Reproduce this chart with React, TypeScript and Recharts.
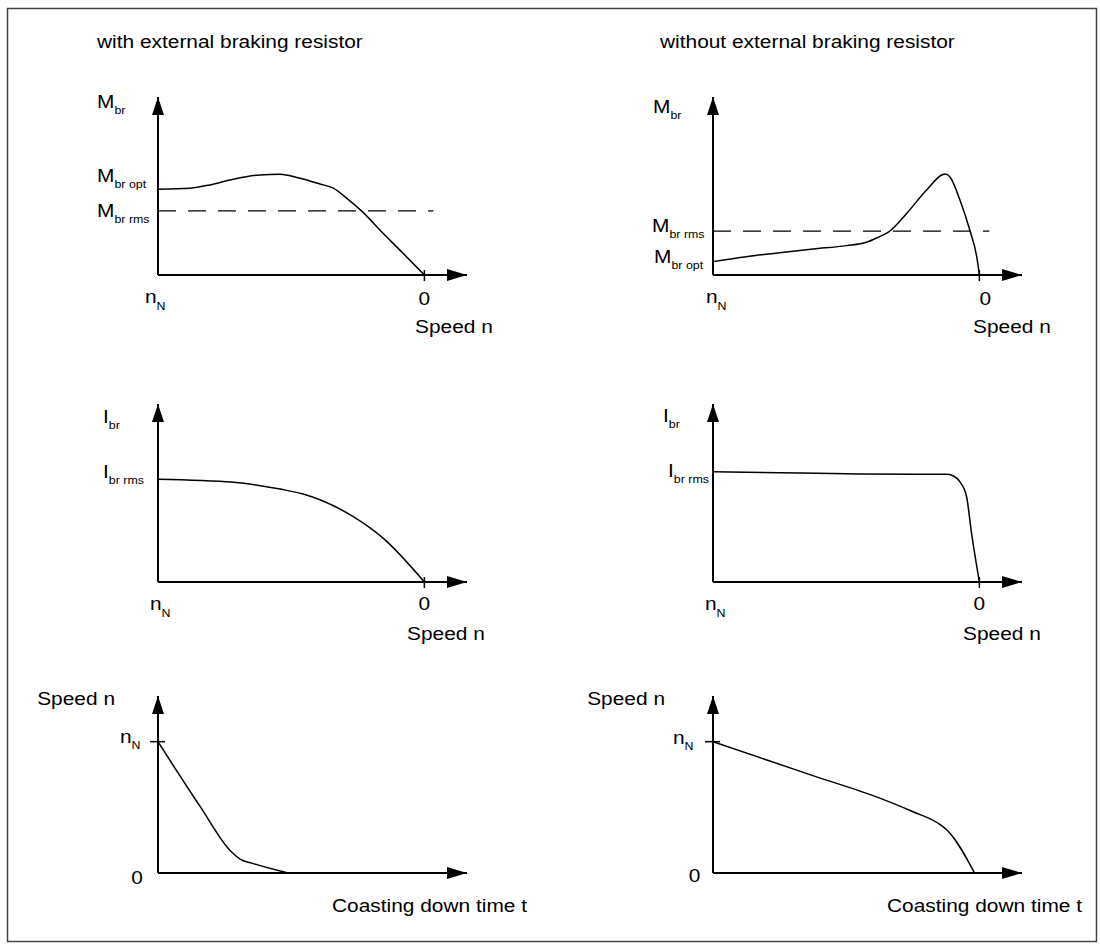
import React from 'react';
import { LineChart, Line, XAxis, YAxis, ReferenceLine, ReferenceDot } from 'recharts';

// x: 0 = n_N, 100 = speed 0 (axis arrow runs on to 116); y: 0..100 = axis arrow tip
const torqueWithX = [0, 12, 19.5, 28.3, 38.3, 45.8, 53.3, 60.8, 65.8, 70.8, 76.4, 84.5, 92, 100];
const torqueWithY = [48.2, 48.8, 50.6, 53.8, 56.2, 56.6, 54.3, 51.1, 48.8, 43.2, 36.0, 23.4, 12.2, 0];
const torqueWithRms = 36;

const torqueWithoutX = [0, 12.5, 25, 37.6, 50.1, 57.6, 61.4, 66.4, 72.7, 80.2, 87.1, 88.9, 92.7, 96.5, 99, 100];
const torqueWithoutY = [7.5, 10.3, 12.5, 14.6, 16.5, 18.4, 20.8, 24.7, 34.6, 47.8, 56.7, 55.2, 42.1, 24.7, 10.3, 0];
const torqueWithoutRms = 24.7;

const currentWithX = [0, 28.3, 45.8, 54.5, 73.3, 84.6, 100];
const currentWithY = [57.7, 56.0, 52.2, 49.4, 36.7, 24.5, 0];

const currentWithoutX = [0, 25, 50.1, 75.1, 87.6, 90.1, 92.7, 95.2, 97, 100];
const currentWithoutY = [62, 61.4, 60.8, 60.5, 60.5, 59.7, 56.3, 47.9, 28, 0];

// coasting down: x = time, y = speed (74.2 = n_N)
const speedN = 74.2;
const coastWithX = [0, 15.8, 27.7, 30.8, 35.8, 48.9];
const coastWithY = [74.2, 37.6, 11.7, 7.9, 5.3, 0];
const coastWithoutX = [0, 37.5, 62.6, 75.1, 85.1, 88, 98.2];
const coastWithoutY = [74.2, 55.0, 42.3, 34.6, 27.5, 24, 0];

const speedTicks = [0, 100];
const speedTickLabels: [string, string][] = [['n', 'N'], ['0', '']];

const torqueWithTicks = [100, 48.2, torqueWithRms];
const torqueWithoutTicks = [100, torqueWithoutRms, 7.5];
const torqueLabels: [string, string][] = [['M', 'br'], ['M', 'br opt'], ['M', 'br rms']];
const torqueWithoutLabels: [string, string][] = [['M', 'br'], ['M', 'br rms'], ['M', 'br opt']];
const currentWithTicks = [100, 57.7];
const currentWithoutTicks = [100, 62];
const currentLabels: [string, string][] = [['I', 'br'], ['I', 'br rms']];
const coastTicks = [speedN, 0];
const coastLabels: [string, string][] = [['n', 'N'], ['0', '']];

const titles = ['with external braking resistor', 'without external braking resistor'];
const speedTitle = 'Speed n';
const timeTitle = 'Coasting down time t';

const zip = (xs: number[], ys: number[]) => xs.map((x, i) => ({ x, y: ys[i] }));

const FONT = "'Liberation Sans', Arial, Helvetica, sans-serif";
const SX = 1.13;
const YW = 130;
const MT = 25;
const MR = 75;
const XH = 75;
const PW = 309;

const SText = ({ x, y, main, sub, anchor = 'start', size = 18.5, subDy = 6 }: any) => (
  <text
    transform={`translate(${x},${y}) scale(${SX},1)`}
    textAnchor={anchor}
    fontFamily={FONT}
    fontSize={size}
    fill="#000"
  >
    {main}
    {sub ? <tspan fontSize={11} dy={subDy}>{sub}</tspan> : null}
  </text>
);

const xArrow = (p: any) => (
  <polygon points={`${p.cx},${p.cy} ${p.cx - 20},${p.cy - 6} ${p.cx - 20},${p.cy + 6}`} fill="#000" />
);
const yArrow = (p: any) => (
  <polygon points={`${p.cx},${p.cy} ${p.cx - 6},${p.cy + 18} ${p.cx + 6},${p.cy + 18}`} fill="#000" />
);

type PanelProps = {
  left: number;
  top: number;
  ph: number;
  data: { x: number; y: number }[];
  rms?: number;
  rmsEnd?: number;
  xTicks?: number[];
  xLabels?: [string, string][];
  xOffsets?: [number, number, string][];
  zeroMark?: boolean;
  yTicks: number[];
  yLabels: [string, string][];
  yOffsets: [number, number, string][];
  markValue?: number;
};

const Panel = (p: PanelProps) => {
  const axisY = MT + p.ph;

  const yTick = (props: any) => {
    const i = p.yTicks.indexOf(props.payload.value);
    if (i < 0) return <g />;
    const [dx, dy, anchor] = p.yOffsets[i];
    return (
      <g>
        {p.markValue === props.payload.value ? (
          <line x1={YW - 8} x2={YW + 7} y1={props.y} y2={props.y} stroke="#000" strokeWidth={1.5} />
        ) : null}
        <SText x={YW + dx} y={props.y + dy} main={p.yLabels[i][0]} sub={p.yLabels[i][1]} anchor={anchor} />
      </g>
    );
  };

  const xTick = (props: any) => {
    const ticks = p.xTicks || [];
    const i = ticks.indexOf(props.payload.value);
    if (i < 0 || !p.xLabels || !p.xOffsets) return <g />;
    const [dx, dy, anchor] = p.xOffsets[i];
    return (
      <g>
        {p.zeroMark && props.payload.value === 100 ? (
          <line x1={props.x} x2={props.x} y1={axisY - 5} y2={axisY + 6} stroke="#000" strokeWidth={1.5} />
        ) : null}
        <SText x={props.x + dx} y={axisY + dy} main={p.xLabels[i][0]} sub={p.xLabels[i][1]} anchor={anchor} subDy={7} />
      </g>
    );
  };

  return (
    <div style={{ position: 'absolute', left: p.left - YW, top: p.top - MT }}>
      <LineChart
        width={YW + PW + MR}
        height={MT + p.ph + XH}
        data={p.data}
        margin={{ top: MT, right: MR, bottom: 0, left: 0 }}
      >
        <XAxis
          type="number"
          dataKey="x"
          domain={[0, 116]}
          allowDataOverflow
          ticks={p.xTicks && p.xTicks.length ? p.xTicks : [0]}
          interval={0}
          tick={p.xTicks && p.xTicks.length ? xTick : false}
          tickLine={false}
          axisLine={{ stroke: '#000', strokeWidth: 2 }}
          height={XH}
        />
        <YAxis
          type="number"
          domain={[0, 100]}
          allowDataOverflow
          ticks={p.yTicks}
          interval={0}
          tick={yTick}
          tickLine={false}
          axisLine={{ stroke: '#000', strokeWidth: 2 }}
          width={YW}
        />
        {p.rms !== undefined ? (
          <ReferenceLine
            segment={[{ x: 0, y: p.rms }, { x: p.rmsEnd || 103.5, y: p.rms }]}
            stroke="#000"
            strokeWidth={1.3}
            strokeDasharray="18 12"
          />
        ) : null}
        <Line
          type="monotone"
          dataKey="y"
          stroke="#000"
          strokeWidth={1.5}
          dot={false}
          activeDot={false}
          isAnimationActive={false}
        />
        <ReferenceDot x={116} y={0} r={1} ifOverflow="visible" shape={xArrow} />
        <ReferenceDot x={0} y={100} r={1} ifOverflow="visible" shape={yArrow} />
      </LineChart>
    </div>
  );
};

export default function App() {
  return (
    <div style={{ position: 'absolute', left: 0, top: 0, width: 1100, height: 949, background: '#fff' }}>
      <svg width={1100} height={949} style={{ position: 'absolute', left: 0, top: 0 }}>
        <rect x={7.5} y={8.5} width={1089} height={933} fill="none" stroke="#444" strokeWidth={1.5} />
        <SText x={97} y={48} main={titles[0]} />
        <SText x={660} y={48} main={titles[1]} />
        <SText x={415} y={333} main={speedTitle} />
        <SText x={973} y={333} main={speedTitle} />
        <SText x={407} y={640} main={speedTitle} />
        <SText x={963} y={640} main={speedTitle} />
        <SText x={115} y={705} main={speedTitle} anchor="end" />
        <SText x={665} y={705} main={speedTitle} anchor="end" />
        <SText x={527} y={912} main={timeTitle} anchor="end" />
        <SText x={1082} y={912} main={timeTitle} anchor="end" />
      </svg>

      <Panel
        left={158}
        top={97}
        ph={178}
        data={zip(torqueWithX, torqueWithY)}
        rms={torqueWithRms}
        rmsEnd={103.4}
        xTicks={speedTicks}
        xLabels={speedTickLabels}
        xOffsets={[[-13, 28, 'start'], [0, 30, 'middle']]}
        zeroMark
        yTicks={torqueWithTicks}
        yLabels={torqueLabels}
        yOffsets={[[-61, 11, 'start'], [-61, -7, 'start'], [-61, 6, 'start']]}
      />
      <Panel
        left={713}
        top={97}
        ph={178}
        data={zip(torqueWithoutX, torqueWithoutY)}
        rms={torqueWithoutRms}
        rmsEnd={103.7}
        xTicks={speedTicks}
        xLabels={speedTickLabels}
        xOffsets={[[-7, 28, 'start'], [6, 30, 'middle']]}
        zeroMark
        yTicks={torqueWithoutTicks}
        yLabels={torqueWithoutLabels}
        yOffsets={[[-60, 16, 'start'], [-61, 1, 'start'], [-59, 1, 'start']]}
      />
      <Panel
        left={158}
        top={404}
        ph={178}
        data={zip(currentWithX, currentWithY)}
        xTicks={speedTicks}
        xLabels={speedTickLabels}
        xOffsets={[[-8, 28, 'start'], [0, 28, 'middle']]}
        zeroMark
        yTicks={currentWithTicks}
        yLabels={currentLabels}
        yOffsets={[[-55, 19, 'start'], [-55, -1, 'start']]}
      />
      <Panel
        left={713}
        top={404}
        ph={178}
        data={zip(currentWithoutX, currentWithoutY)}
        xTicks={speedTicks}
        xLabels={speedTickLabels}
        xOffsets={[[-8, 28, 'start'], [0, 28, 'middle']]}
        zeroMark
        yTicks={currentWithoutTicks}
        yLabels={currentLabels}
        yOffsets={[[-50, 18, 'start'], [-45, 5, 'start']]}
      />
      <Panel
        left={158}
        top={696}
        ph={177}
        data={zip(coastWithX, coastWithY)}
        yTicks={coastTicks}
        yLabels={coastLabels}
        yOffsets={[[-38, 1, 'start'], [-21, 11, 'middle']]}
        markValue={speedN}
      />
      <Panel
        left={713}
        top={696}
        ph={177}
        data={zip(coastWithoutX, coastWithoutY)}
        yTicks={coastTicks}
        yLabels={coastLabels}
        yOffsets={[[-40, 2, 'start'], [-18.5, 9, 'middle']]}
        markValue={speedN}
      />
    </div>
  );
}
